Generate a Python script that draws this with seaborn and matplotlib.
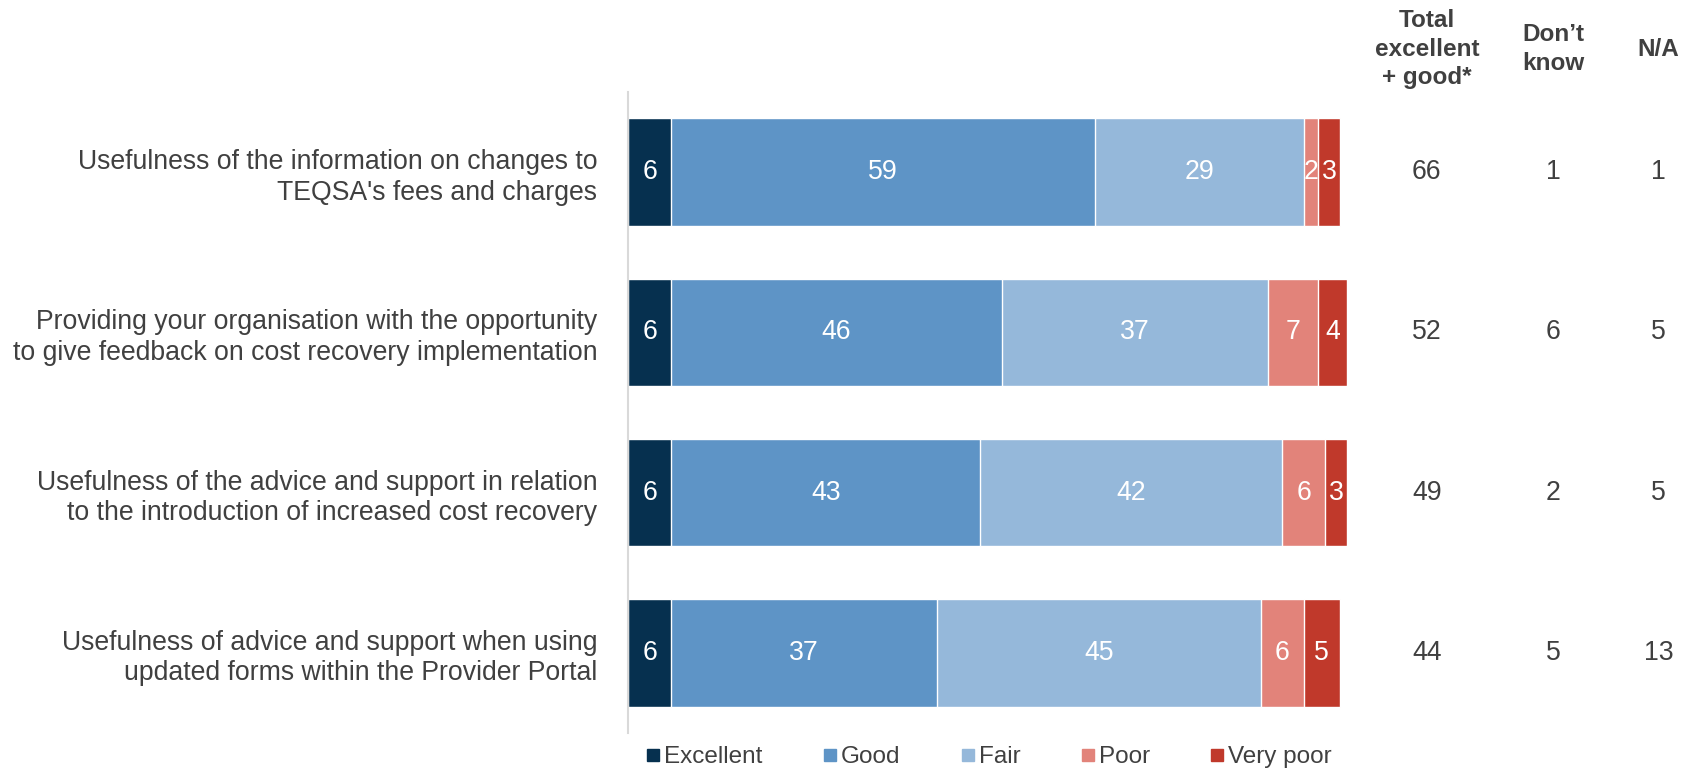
import numpy as np
import pandas as pd
import matplotlib
matplotlib.use("Agg")
import matplotlib.pyplot as plt
from matplotlib.lines import Line2D
from matplotlib.transforms import blended_transform_factory
import seaborn as sns

# ---- data -------------------------------------------------------------
items = [
    "Usefulness of the information on changes to\nTEQSA's fees and charges",
    "Providing your organisation with the opportunity\nto give feedback on cost recovery implementation",
    "Usefulness of the advice and support in relation\nto the introduction of increased cost recovery",
    "Usefulness of advice and support when using\nupdated forms within the Provider Portal",
]
ratings = ["Excellent", "Good", "Fair", "Poor", "Very poor"]
excellent = [6, 6, 6, 6]
good = [59, 46, 43, 37]
fair = [29, 37, 42, 45]
poor = [2, 7, 6, 6]
very_poor = [3, 4, 3, 5]
total_exc_good = [66, 52, 49, 44]
dont_know = [1, 6, 2, 5]
not_applicable = [1, 5, 5, 13]
side_headers = ["Total\nexcellent\n+ good*", "Don\u2019t\nknow", "N/A"]

colors = ["#06304f", "#5e94c6", "#95b8da", "#e2837a", "#c0392b"]
text_grey = "#404040"

# ---- figure -----------------------------------------------------------
sns.set_theme(style="white")
plt.rcParams["font.family"] = ["Liberation Sans", "DejaVu Sans"]
fs = 19.2
fs_head = 17.5
fs_leg = 17.5

fig = plt.figure(figsize=(16.96, 7.7), dpi=100)
ax = fig.add_axes([628 / 1696, 1 - 733 / 770, 719 / 1696, 641 / 770])

series = [excellent, good, fair, poor, very_poor]
df = pd.DataFrame({"item": items})
for name, vals in zip(ratings, series):
    df[name] = vals
cum = df[ratings].cumsum(axis=1)

# stacked bars: draw cumulative totals from the widest down so each
# segment sits in front of the ones to its right
for name, col in reversed(list(zip(ratings, colors))):
    sns.barplot(data=pd.DataFrame({"item": items, "v": cum[name]}),
                x="v", y="item", orient="y", color=col, width=0.67,
                edgecolor="white", linewidth=1.0, saturation=1,
                ax=ax, zorder=2)

# value labels inside segments
for i in range(len(items)):
    left = 0
    for name in ratings:
        v = df.loc[i, name]
        ax.text(left + v / 2, i, f"{v}", ha="center", va="center",
                color="white", fontsize=fs, zorder=5)
        left += v

ax.set_xlim(0, 100)
ax.set_ylim(len(items) - 0.5, -0.5)
ax.set_xlabel("")
ax.set_ylabel("")
ax.set_xticks([])
for s in ["top", "right", "bottom"]:
    ax.spines[s].set_visible(False)
ax.spines["left"].set_color("#d9d9d9")
ax.spines["left"].set_linewidth(1.5)
ax.tick_params(axis="y", length=0, pad=22, labelsize=fs, labelcolor=text_grey)
ax.set_yticks(range(len(items)))
ax.set_yticklabels(items, ha="right", linespacing=1.22)

# side columns
col_x = [111.1, 128.7, 143.3]
for x, col_vals in zip(col_x, [total_exc_good, dont_know, not_applicable]):
    for i, v in enumerate(col_vals):
        ax.text(x, i, f"{v}", ha="center", va="center", fontsize=fs,
                color=text_grey, clip_on=False)

trans = blended_transform_factory(ax.transData, fig.transFigure)
for x, h in zip(col_x, side_headers):
    ax.text(x, 1 - 49 / 770, h, transform=trans, ha="center", va="center",
            fontsize=fs_head, fontweight="bold", color=text_grey,
            linespacing=1.3, clip_on=False)

# legend
handles = [Line2D([0], [0], marker="s", linestyle="none", markersize=8,
                  markerfacecolor=c, markeredgecolor=c) for c in colors]
fig.legend(handles, ratings, loc="center left",
           bbox_to_anchor=(646 / 1696, 1 - 757 / 770), ncol=5, frameon=False,
           fontsize=fs_leg, handlelength=0.6, handletextpad=0.15,
           columnspacing=2.47, borderaxespad=0, borderpad=0,
           labelcolor=text_grey)

fig.savefig("out.png", dpi=100)
